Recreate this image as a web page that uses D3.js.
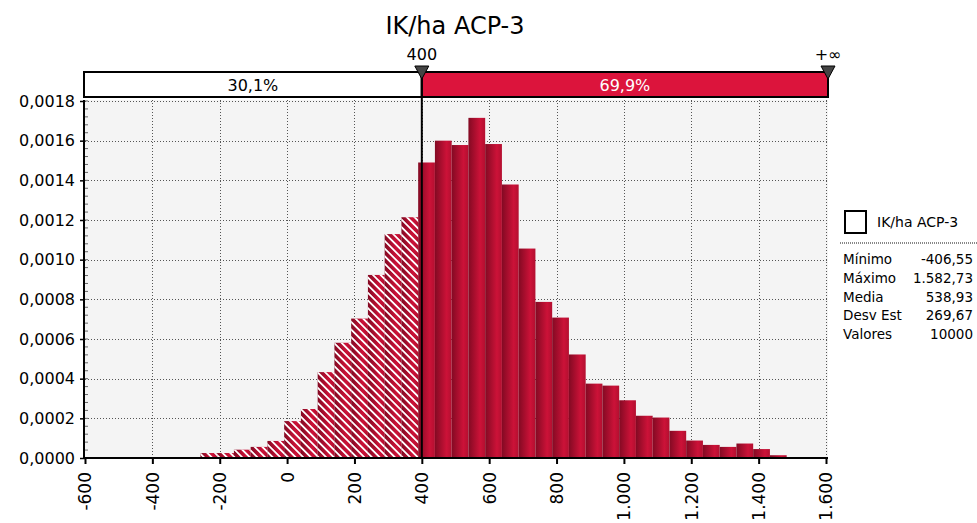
<!DOCTYPE html>
<html lang="es">
<head>
<meta charset="utf-8">
<script src="https://d3js.org/d3.v7.min.js"></script>
<style>
  body { margin: 0; background: #fff; }
  text { font-family: "DejaVu Sans", Verdana, sans-serif; }
</style>
</head>
<body>
<div id="chart"></div>
<script>
// chart data
var title = "IK/ha ACP-3";
var xTicks = [-600, -400, -200, 0, 200, 400, 600, 800, 1000, 1200, 1400, 1600];
var yTicks = [0, 0.0002, 0.0004, 0.0006, 0.0008, 0.0010, 0.0012, 0.0014, 0.0016, 0.0018];
var minValue = -406.55, maxValue = 1582.73;
var density = [
  0.000003, 0.000003, 0.000005, 0.000025, 0.000025, 0.000042, 0.000056, 0.000086,
  0.000186, 0.000247, 0.000433, 0.000581, 0.000703, 0.000923, 0.001129, 0.001214,
  0.001490, 0.001600, 0.001578, 0.001715, 0.001583, 0.001379, 0.001056, 0.000787,
  0.000708, 0.000522, 0.000375, 0.000365, 0.000291, 0.000213, 0.000204, 0.000137,
  0.000088, 0.000066, 0.000056, 0.000073, 0.000045, 0.000014, 0.000004, 0.000004
];
var splitValue = 400;
var splitLabels = ["30,1%", "69,9%"];
var statNames = ["Mínimo", "Máximo", "Media", "Desv Est", "Valores"];
var statValues = ["-406,55", "1.582,73", "538,93", "269,67", "10000"];

var W = 977, H = 523;
var margin = {top: 101, left: 85, right: 826, bottom: 458};

var loc = d3.formatLocale({decimal: ",", thousands: ".", grouping: [3], currency: ["", ""], minus: "-"});

var svg = d3.select("#chart").append("svg")
  .attr("width", W).attr("height", H);

var defs = svg.append("defs");
var grad = defs.append("linearGradient").attr("id", "barGrad")
  .attr("x1", 0).attr("x2", 1).attr("y1", 0).attr("y2", 0);
grad.append("stop").attr("offset", "0%").attr("stop-color", "#830a23");
grad.append("stop").attr("offset", "70%").attr("stop-color", "#cc1238");
grad.append("stop").attr("offset", "100%").attr("stop-color", "#b30f30");

var hatch = defs.append("pattern").attr("id", "hatch")
  .attr("patternUnits", "userSpaceOnUse")
  .attr("width", 8).attr("height", 5.4)
  .attr("patternTransform", "rotate(45)");
hatch.append("rect").attr("x", 0).attr("y", 0).attr("width", 8).attr("height", 1.8).attr("fill", "#fff");

var x = d3.scaleLinear().domain([-600, 1600]).range([margin.left, margin.right]);
var y = d3.scaleLinear().domain([0, 0.0018]).range([margin.bottom, margin.top]);

// bins
var binW = (maxValue - minValue) / density.length;
var bins = density.map(function(d, i) {
  return {x0: minValue + i * binW, x1: minValue + (i + 1) * binW, v: d};
});

// plot background
svg.append("rect")
  .attr("x", margin.left).attr("y", margin.top - 1)
  .attr("width", margin.right - margin.left + 2).attr("height", margin.bottom - margin.top + 1)
  .attr("fill", "#f4f4f4");

// grid
svg.append("g").selectAll("line").data(yTicks.slice(1)).enter().append("line")
  .attr("x1", margin.left).attr("x2", margin.right + 2)
  .attr("y1", function(d) { return Math.round(y(d)) + 0.5; })
  .attr("y2", function(d) { return Math.round(y(d)) + 0.5; })
  .attr("stroke", "#555").attr("stroke-dasharray", "1,2");
svg.append("g").selectAll("line").data(xTicks.slice(1)).enter().append("line")
  .attr("x1", function(d) { return Math.round(x(d)) + 0.5; })
  .attr("x2", function(d) { return Math.round(x(d)) + 0.5; })
  .attr("y1", margin.top - 1).attr("y2", margin.bottom)
  .attr("stroke", "#555").attr("stroke-dasharray", "1,2");

// bars
var bars = svg.append("g");
bars.selectAll("rect.bar").data(bins).enter().append("rect")
  .attr("class", "bar")
  .attr("x", function(d) { return x(d.x0); })
  .attr("width", function(d) { return x(d.x1) - x(d.x0); })
  .attr("y", function(d) { return y(d.v); })
  .attr("height", function(d) { return y(0) - y(d.v); })
  .attr("fill", "url(#barGrad)");
bars.selectAll("rect.hatch").data(bins.filter(function(d) { return d.x1 <= splitValue; })).enter().append("rect")
  .attr("class", "hatch")
  .attr("x", function(d) { return x(d.x0); })
  .attr("width", function(d) { return x(d.x1) - x(d.x0); })
  .attr("y", function(d) { return y(d.v); })
  .attr("height", function(d) { return y(0) - y(d.v); })
  .attr("fill", "url(#hatch)");

// y axis
var yAxis = svg.append("g")
  .attr("transform", "translate(" + margin.left + ",0)")
  .call(d3.axisLeft(y).tickValues(yTicks).tickFormat(loc.format(".4f")).tickSize(5).tickPadding(5));
yAxis.select(".domain").remove();
yAxis.selectAll("text").style("font-size", "16px").attr("fill", "#000");
yAxis.selectAll("line").attr("stroke", "#000").attr("stroke-width", 1.5);
svg.append("g").selectAll("line").data(d3.range(0, 0.00181, 0.00004)).enter().append("line")
  .attr("x1", margin.left).attr("x2", margin.left + 3)
  .attr("y1", function(d) { return y(d); }).attr("y2", function(d) { return y(d); })
  .attr("stroke", "#666");

// x axis
var xAxis = svg.append("g")
  .attr("transform", "translate(0," + margin.bottom + ")")
  .call(d3.axisBottom(x).tickValues(xTicks).tickFormat(loc.format(",")).tickSize(6));
xAxis.select(".domain").remove();
xAxis.selectAll("line").attr("stroke", "#000").attr("stroke-width", 2);
xAxis.selectAll("text")
  .style("font-size", "17px").attr("fill", "#000")
  .attr("text-anchor", "end")
  .attr("transform", "rotate(-90)")
  .attr("x", -14).attr("y", 0).attr("dy", "0.35em");

// axis lines
svg.append("line").attr("x1", margin.left - 1).attr("x2", margin.left - 1)
  .attr("y1", margin.top - 1).attr("y2", margin.bottom + 1)
  .attr("stroke", "#000").attr("stroke-width", 2);
svg.append("line").attr("x1", margin.left - 2).attr("x2", margin.right + 2)
  .attr("y1", margin.bottom).attr("y2", margin.bottom)
  .attr("stroke", "#000").attr("stroke-width", 2);

// split bar on top
var barTop = 72, barH = 25;
var xs = x(splitValue), xl = x(-600) - 1, xr = x(1600) + 2;
svg.append("rect").attr("x", xl).attr("y", barTop).attr("width", xs - xl).attr("height", barH)
  .attr("fill", "#fff").attr("stroke", "#000").attr("stroke-width", 2);
svg.append("rect").attr("x", xs).attr("y", barTop).attr("width", xr - xs).attr("height", barH)
  .attr("fill", "#dc143c").attr("stroke", "#000").attr("stroke-width", 2);
svg.append("text").attr("x", (xl + xs) / 2).attr("y", barTop + 19)
  .attr("text-anchor", "middle").style("font-size", "16px").text(splitLabels[0]);
svg.append("text").attr("x", (xs + xr) / 2).attr("y", barTop + 19)
  .attr("text-anchor", "middle").style("font-size", "16px").attr("fill", "#fff").text(splitLabels[1]);

// split line
svg.append("line").attr("x1", xs).attr("x2", xs).attr("y1", barTop).attr("y2", margin.bottom)
  .attr("stroke", "#000").attr("stroke-width", 2);

// markers
[[xs, "400"], [xr, "+∞"]].forEach(function(m) {
  svg.append("path")
    .attr("d", "M" + (m[0] - 7) + ",66 L" + (m[0] + 7) + ",66 L" + m[0] + ",79 Z")
    .attr("fill", "#444").attr("stroke", "#000").attr("stroke-width", 1);
  svg.append("text").attr("x", m[0]).attr("y", 60)
    .attr("text-anchor", "middle").style("font-size", "16px").text(m[1]);
});

// title
svg.append("text").attr("x", 455).attr("y", 34)
  .attr("text-anchor", "middle").style("font-size", "24px").text(title);

// legend
svg.append("rect").attr("x", 845).attr("y", 211).attr("width", 21).attr("height", 22)
  .attr("fill", "#fff").attr("stroke", "#000").attr("stroke-width", 2);
svg.append("text").attr("x", 877).attr("y", 227).style("font-size", "14px").text(title);
svg.append("line").attr("x1", 840).attr("x2", 977).attr("y1", 243).attr("y2", 243)
  .attr("stroke", "#888").attr("stroke-width", 2).attr("stroke-dasharray", "1,1");
var leg = svg.append("g").selectAll("g").data(statNames).enter().append("g")
  .attr("transform", function(d, i) { return "translate(0," + (264 + i * 18.8) + ")"; });
leg.append("text").attr("x", 843).style("font-size", "13.5px").text(function(d) { return d; });
leg.append("text").attr("x", 973).attr("text-anchor", "end").style("font-size", "13.5px")
  .text(function(d, i) { return statValues[i]; });
</script>
</body>
</html>
